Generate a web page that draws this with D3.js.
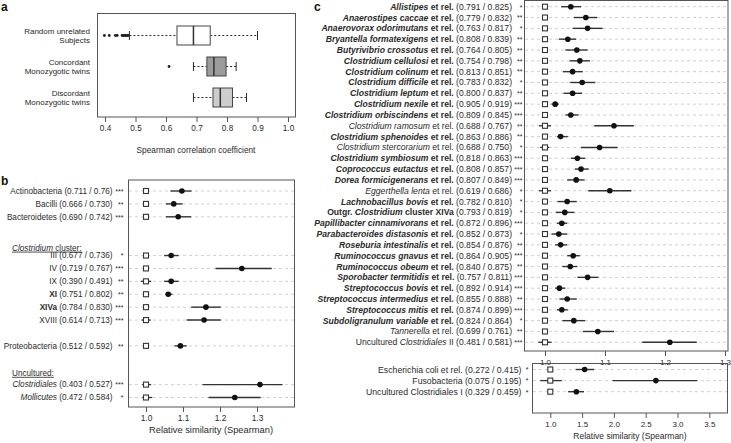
<!DOCTYPE html>
<html><head><meta charset="utf-8">
<script src="https://cdn.jsdelivr.net/npm/d3@7"></script>
<style>
body{margin:0;background:#fff}
svg{display:block;font-family:"Liberation Sans",Arial,sans-serif}
text{white-space:pre}
</style>
</head><body>
<svg id="chart" width="731" height="443"></svg>
<script>
// ---------------- DATA ----------------
// Panel a: box plots of Spearman correlation coefficients
const groupsA = [["Random unrelated","Subjects"],["Concordant","Monozygotic twins"],["Discordant","Monozygotic twins"]];
const q1A  = [0.636, 0.734, 0.754];
const medA = [0.690, 0.757, 0.778];
const q3A  = [0.745, 0.797, 0.818];
const loA  = [0.480, 0.690, 0.690];
const hiA  = [0.900, 0.830, 0.864];
const outA = [[0.398,0.414,0.434,0.440,0.456,0.460,0.464,0.468,0.472,0.476],[0.610],[]];
const ticksA = [0.4,0.5,0.6,0.7,0.8,0.9,1.0];

// Panel b: phylum / cluster level relative similarity
const bNames = ["Actinobacteria","Bacilli","Bacteroidetes","III","IV","IX","#XI#","#XIVa#","XVIII","Proteobacteria","*Clostridiales*","*Mollicutes*"];
const bRow   = [0,1,2,5,6,7,8,9,10,12,15,16];
const bSimA  = ["0.711","0.666","0.690","0.677","0.719","0.390","0.751","0.784","0.614","0.512","0.403","0.472"];
const bSimB  = ["0.76","0.730","0.742","0.736","0.767","0.491","0.802","0.830","0.713","0.592","0.527","0.584"];
const bSig   = ["***","**","***","*","***","**","**","***","***","**","***","*"];
const bEst   = [1.097,1.075,1.087,1.068,1.259,1.068,1.060,1.162,1.157,1.093,1.308,1.240];
const bLo    = [1.066,1.054,1.054,1.049,1.188,1.049,1.053,1.122,1.110,1.077,1.153,1.169];
const bHi    = [1.123,1.099,1.122,1.088,1.340,1.088,1.071,1.202,1.202,1.110,1.369,1.310];
const bRefLo = [1,1,1,1,1,0.986,1,1,0.988,1,0.990,0.990];
const bRefHi = [1,1,1,1,1,1.014,1,1,1.013,1,1.014,1.017];
const bHeaders = ["*Clostridium* cluster:","Uncultured:"];
const bHeaderRow = [4.4,14.1];
const ticksB = [1.0,1.1,1.2,1.3];

// Panel c: genus-like groups
const cNames = ["*Allistipes* et rel.","*Anaerostipes caccae* et rel.","*Anaerovorax odorimutans* et rel.","*Bryantella formatexigens* et rel.",
 "*Butyrivibrio crossotus* et rel.","*Clostridium cellulosi* et rel.","*Clostridium colinum* et rel.","*Clostridium difficile* et rel.",
 "*Clostridium leptum* et rel.","*Clostridium nexile* et rel.","*Clostridium orbiscindens* et rel.","*Clostridium ramosum* et rel.",
 "*Clostridium sphenoides* et rel.","*Clostridium stercorarium* et rel.","*Clostridium symbiosum* et rel.","*Coprococcus eutactus* et rel.",
 "*Dorea formicigenerans* et rel.","*Eggerthella lenta* et rel.","*Lachnobacillus bovis* et rel.","Outgr. *Clostridium* cluster XIVa",
 "*Papillibacter cinnamivorans* et rel.","*Parabacteroides distasonis* et rel.","*Roseburia intestinalis* et rel.","*Ruminococcus gnavus* et rel.",
 "*Ruminococcus obeum* et rel.","*Sporobacter termitidis* et rel.","*Streptococcus bovis* et rel.","*Streptococcus intermedius* et rel.",
 "*Streptococcus mitis* et rel.","*Subdoligranulum variable* et rel.","*Tannerella* et rel.","Uncultured *Clostridiales* II"];
const cBold = [1,1,1,1,1,1,1,1,1,1,1,0,1,0,1,1,1,0,1,1,1,1,1,1,1,1,1,1,1,1,0,0];
const cSimA = ["0.791","0.779","0.763","0.808","0.764","0.754","0.813","0.783","0.800","0.905","0.809","0.688","0.863","0.688","0.818","0.808",
 "0.807","0.619","0.782","0.793","0.872","0.852","0.854","0.864","0.840","0.757","0.892","0.855","0.874","0.824","0.699","0.481"];
const cSimB = ["0.825","0.832","0.817","0.839","0.805","0.798","0.851","0.832","0.837","0.919","0.845","0.767","0.886","0.750","0.863","0.857",
 "0.849","0.686","0.810","0.819","0.896","0.873","0.876","0.905","0.875","0.811","0.914","0.888","0.899","0.864","0.761","0.581"];
const cSig = ["*","**","*","**","**","**","**","*","**","***","***","**","**","*","***","***","***","*","*","*","***","*","**","***","**","***","***","**","***","*","**","***"];
const cEst = [1.043,1.068,1.071,1.038,1.053,1.058,1.046,1.062,1.046,1.017,1.043,1.115,1.026,1.091,1.054,1.060,
 1.052,1.108,1.037,1.033,1.028,1.023,1.026,1.047,1.042,1.071,1.024,1.037,1.028,1.048,1.088,1.208];
const cLo  = [1.027,1.048,1.046,1.023,1.034,1.041,1.030,1.042,1.031,1.011,1.034,1.082,1.020,1.060,1.043,1.050,
 1.037,1.072,1.021,1.018,1.020,1.011,1.017,1.037,1.029,1.054,1.017,1.024,1.020,1.029,1.063,1.162];
const cHi  = [1.060,1.087,1.096,1.052,1.071,1.075,1.063,1.084,1.062,1.023,1.056,1.148,1.038,1.121,1.067,1.073,
 1.066,1.144,1.053,1.049,1.037,1.037,1.037,1.058,1.054,1.089,1.034,1.053,1.038,1.067,1.115,1.253];
const cRefLo = [1,1,0.995,1,1,1,1,0.995,1,1,1,0.990,1,0.992,1,1,1,0.990,1,1,1,1,1,1,1,1,1,1,1,1,0.995,0.989];
const cRefHi = [1,1,1.005,1,1,1,1,1.005,1,1,1,1.010,1,1.007,1,1,1,1.010,1,1,1,1,1,1,1,1,1,1,1,1,1.005,1.011];
const ticksC = [1.0,1.1,1.2,1.3];

// Panel c (lower): low-similarity groups
const dNames = ["Escherichia coli et rel.","Fusobacteria","Uncultured Clostridiales I"];
const dSimA  = ["0.272","0.075","0.329"];
const dSimB  = ["0.415","0.195","0.459"];
const dSig   = ["*","*","*"];
const dEst   = [1.54,2.66,1.41];
const dLo    = [1.40,1.98,1.28];
const dHi    = [1.69,3.31,1.53];
const dRefLo = [1,0.84,1];
const dRefHi = [1,1.18,1];
const ticksD = [1.0,1.5,2.0,2.5,3.0,3.5];

// ---------------- DRAWING ----------------
const svg = d3.select("#chart");
const INK = "#2a2a2a", FRAME = "#555";

function rich(textSel, str, bold){
  let it = false, bo = !!bold;
  str.split(/([*#])/).forEach(p => {
    if (p === "*") { it = !it; return; }
    if (p === "#") { bo = !bo; return; }
    if (!p) return;
    textSel.append("tspan").text(p)
      .attr("font-style", it ? "italic" : null)
      .attr("font-weight", bo ? "bold" : null);
  });
}

function frame(g, x0, y0, x1, y1){
  g.append("rect").attr("x", x0).attr("y", y0).attr("width", x1 - x0).attr("height", y1 - y0)
    .attr("fill", "none").attr("stroke", FRAME).attr("stroke-width", 1);
}

function bottomAxis(g, scale, ticks, y, fmt, fs){
  const ax = g.append("g").attr("transform", `translate(0,${y})`)
    .call(d3.axisBottom(scale).tickValues(ticks).tickFormat(d3.format(fmt)).tickSize(5).tickPadding(3));
  ax.select(".domain").remove();
  ax.selectAll(".tick line").attr("stroke", FRAME);
  ax.selectAll(".tick text").attr("fill", INK).attr("font-size", fs).attr("font-family", null);
  return ax;
}

function panelLetter(x, y, t){
  svg.append("text").attr("x", x).attr("y", y).attr("font-size", 12).attr("font-weight", "bold").attr("fill", "#111").text(t);
}

// ---- Panel a ----
{
  const g = svg.append("g");
  const x = d3.scaleLinear().domain([0.4, 1.0]).range([105, 288]);
  const y = d3.scalePoint().domain(d3.range(groupsA.length)).range([35.5, 97.5]);
  const fills = ["#ffffff", "#9b9b9b", "#cdcdcd"];
  const h = 19;
  frame(g, 97.5, 13.5, 295.5, 117);
  bottomAxis(g, x, ticksA, 117, ".1f", 8.2);
  groupsA.forEach((lab, i) => {
    const yc = y(i);
    g.append("line").attr("x1", x(loA[i])).attr("x2", x(q1A[i])).attr("y1", yc).attr("y2", yc)
      .attr("stroke", INK).attr("stroke-dasharray", "2,2");
    g.append("line").attr("x1", x(q3A[i])).attr("x2", x(hiA[i])).attr("y1", yc).attr("y2", yc)
      .attr("stroke", INK).attr("stroke-dasharray", "2,2");
    [loA[i], hiA[i]].forEach(v => g.append("line").attr("x1", x(v)).attr("x2", x(v))
      .attr("y1", yc - 4.5).attr("y2", yc + 4.5).attr("stroke", INK));
    g.append("rect").attr("x", x(q1A[i])).attr("y", yc - h / 2).attr("width", x(q3A[i]) - x(q1A[i])).attr("height", h)
      .attr("fill", fills[i]).attr("stroke", "#444");
    g.append("line").attr("x1", x(medA[i])).attr("x2", x(medA[i])).attr("y1", yc - h / 2).attr("y2", yc + h / 2)
      .attr("stroke", "#333").attr("stroke-width", 1.5);
    g.selectAll(null).data(outA[i]).join("circle").attr("cx", d => x(d)).attr("cy", yc).attr("r", 1.4).attr("fill", "#222");
    const t = g.append("text").attr("text-anchor", "end").attr("font-size", 8).attr("fill", INK);
    lab.forEach((l, k) => t.append("tspan").attr("x", 90).attr("y", yc - 2 + k * 9.3).text(l));
  });
  g.append("text").attr("x", 196).attr("y", 153).attr("text-anchor", "middle").attr("font-size", 8.3)
    .attr("fill", INK).text("Spearman correlation coefficient");
  panelLetter(1, 11, "a");
}

// generic forest rows
function forest(g, n, x, y, est, lo, hi, rLo, rHi, gx0, gx1){
  for (let i = 0; i < n; i++) {
    const yc = y(i);
    g.append("line").attr("x1", gx0).attr("x2", gx1).attr("y1", yc).attr("y2", yc)
      .attr("stroke", "#c4c4c4").attr("stroke-width", 0.8).attr("stroke-dasharray", "3,3");
  }
  for (let i = 0; i < n; i++) {
    const yc = y(i);
    if (rLo[i] < 1 || rHi[i] > 1)
      g.append("line").attr("x1", x(rLo[i])).attr("x2", x(rHi[i])).attr("y1", yc).attr("y2", yc)
        .attr("stroke", "#333").attr("stroke-width", 1.3);
    g.append("rect").attr("x", x(1) - 2.5).attr("y", yc - 2.5).attr("width", 5).attr("height", 5)
      .attr("fill", "#fff").attr("stroke", "#333").attr("stroke-width", 1.1);
    g.append("line").attr("x1", x(lo[i])).attr("x2", x(hi[i])).attr("y1", yc).attr("y2", yc)
      .attr("stroke", "#333").attr("stroke-width", 1.4);
    g.append("circle").attr("cx", x(est[i])).attr("cy", yc).attr("r", 2.8).attr("fill", "#111");
  }
}

function labels(g, names, bolds, simA, simB, sig, y, xText, xSig, fs){
  names.forEach((nm, i) => {
    const str = (bolds && bolds[i] ? "#" + nm + "#" : nm) + " (" + simA[i] + " / " + simB[i] + ")";
    const t = g.append("text").attr("x", xText).attr("y", y(i)).attr("dy", "0.35em")
      .attr("text-anchor", "end").attr("font-size", fs).attr("fill", INK);
    rich(t, str, false);
    g.append("text").attr("x", xSig).attr("y", y(i)).attr("dy", "0.4em").attr("text-anchor", "end")
      .attr("font-size", 7).attr("fill", INK).text(sig[i]);
  });
}

// ---- Panel b ----
{
  const g = svg.append("g");
  const x = d3.scaleLinear().domain([1.0, 1.2]).range([146, 220]);
  const yr = d3.scaleLinear().domain([0, 16]).range([191, 397.5]);
  const y = i => yr(bRow[i]);
  frame(g, 128.5, 180, 294.5, 407);
  bottomAxis(g, x, ticksB, 407, ".1f", 8.4);
  forest(g, bNames.length, x, y, bEst, bLo, bHi, bRefLo, bRefHi, 129, 294);
  labels(g, bNames, null, bSimA, bSimB, bSig, y, 112.5, 123.5, 8.2);
  bHeaders.forEach((hd, k) => {
    const t = g.append("text").attr("x", 12).attr("y", yr(bHeaderRow[k])).attr("dy", "0.35em")
      .attr("font-size", 8.2).attr("fill", INK).attr("text-decoration", "underline");
    rich(t, hd, false);
  });
  g.append("text").attr("x", 211).attr("y", 432.5).attr("text-anchor", "middle").attr("font-size", 9.3)
    .attr("fill", INK).text("Relative similarity (Spearman)");
  panelLetter(1, 185, "b");
}

// ---- Panel c ----
{
  const g = svg.append("g");
  const x = d3.scaleLinear().domain([1.0, 1.1]).range([545, 605]);
  const yr = d3.scaleLinear().domain([0, cNames.length - 1]).range([6.7, 342.3]);
  frame(g, 524.5, 0.5, 728, 351);
  bottomAxis(g, x, ticksC, 351, ".1f", 8);
  forest(g, cNames.length, x, yr, cEst, cLo, cHi, cRefLo, cRefHi, 525, 727.5);
  labels(g, cNames, cBold, cSimA, cSimB, cSig, yr, 512, 522.5, 8.6);
  panelLetter(314, 11, "c");

  // lower part
  const xd = d3.scaleLinear().domain([1.0, 3.5]).range([550.3, 709.3]);
  const yd = d3.scaleLinear().domain([0, 2]).range([369.5, 391.7]);
  frame(g, 532.5, 363.5, 727.5, 413);
  bottomAxis(g, xd, ticksD, 413, ".1f", 8);
  forest(g, dNames.length, xd, yd, dEst, dLo, dHi, dRefLo, dRefHi, 533, 727);
  labels(g, dNames, null, dSimA, dSimB, dSig, yd, 521.5, 528.5, 8.7);
  g.append("text").attr("x", 630).attr("y", 439).attr("text-anchor", "middle").attr("font-size", 8.5)
    .attr("fill", INK).text("Relative similarity (Spearman)");
}
</script>
</body></html>
